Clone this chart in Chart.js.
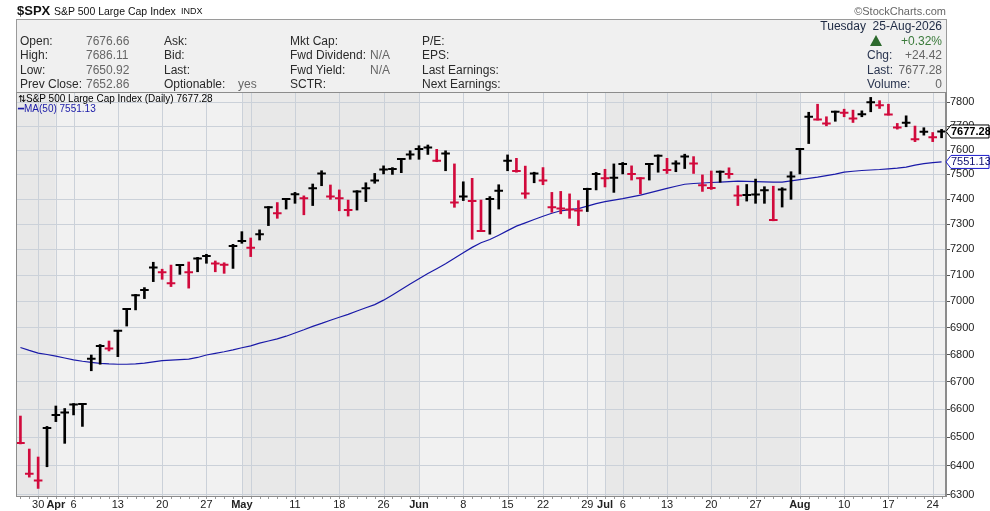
<!DOCTYPE html>
<html>
<head>
<meta charset="utf-8">
<script src="https://cdn.jsdelivr.net/npm/chart.js@4.4.1/dist/chart.umd.min.js"></script>
<style>
  body { margin: 0; background: #fff; font-family: "Liberation Sans", Arial, sans-serif; }
  #wrap { position: relative; width: 990px; height: 511px; overflow: hidden; }
  #chart { position: absolute; left: 0; top: 0; }
  .t { position: absolute; white-space: nowrap; font-size: 12px; line-height: 14px; color: #2a2a2a; }
  .v { color: #666; }
  .r { text-align: right; }
  #info { position: absolute; left: 16px; top: 19px; width: 931px; height: 74px; box-sizing: border-box;
          border: 1px solid #9a9a9a; background: #f0f0f0; }
  .lg { position: absolute; white-space: nowrap; font-size: 10px; line-height: 11px; }
  #tri { position: absolute; left: 870px; top: 35px; width: 0; height: 0;
         border-left: 6px solid transparent; border-right: 6px solid transparent; border-bottom: 11px solid #2d6a2d; }
</style>
</head>
<body>
<div id="wrap">
  <div id="info"></div>
  <canvas id="chart" width="990" height="511"></canvas>

  <div class="t" style="left:17px;top:3px;font-size:13px;line-height:16px;font-weight:bold;color:#111">$SPX</div>
  <div class="t" style="left:54px;top:4px;font-size:10.5px;color:#111">S&amp;P 500 Large Cap Index</div>
  <div class="t" style="left:181px;top:5px;font-size:9px;line-height:12px;color:#111">INDX</div>
  <div class="t r" style="right:44px;top:4px;font-size:11px;color:#666">&copy;StockCharts.com</div>

  <div class="t" style="left:20px;top:34px">Open:</div>
  <div class="t" style="left:20px;top:48px">High:</div>
  <div class="t" style="left:20px;top:63px">Low:</div>
  <div class="t" style="left:20px;top:77px">Prev Close:</div>
  <div class="t v" style="left:86px;top:34px">7676.66</div>
  <div class="t v" style="left:86px;top:48px">7686.11</div>
  <div class="t v" style="left:86px;top:63px">7650.92</div>
  <div class="t v" style="left:86px;top:77px">7652.86</div>

  <div class="t" style="left:164px;top:34px">Ask:</div>
  <div class="t" style="left:164px;top:48px">Bid:</div>
  <div class="t" style="left:164px;top:63px">Last:</div>
  <div class="t" style="left:164px;top:77px">Optionable:</div>
  <div class="t v" style="left:238px;top:77px">yes</div>

  <div class="t" style="left:290px;top:34px">Mkt Cap:</div>
  <div class="t" style="left:290px;top:48px">Fwd Dividend:</div>
  <div class="t" style="left:290px;top:63px">Fwd Yield:</div>
  <div class="t" style="left:290px;top:77px">SCTR:</div>
  <div class="t v" style="left:370px;top:48px">N/A</div>
  <div class="t v" style="left:370px;top:63px">N/A</div>

  <div class="t" style="left:422px;top:34px">P/E:</div>
  <div class="t" style="left:422px;top:48px">EPS:</div>
  <div class="t" style="left:422px;top:63px">Last Earnings:</div>
  <div class="t" style="left:422px;top:77px">Next Earnings:</div>

  <div class="t r" style="right:48px;top:19px;color:#1e2a44">Tuesday&nbsp; 25-Aug-2026</div>
  <div id="tri"></div>
  <div class="t r" style="right:48px;top:34px;color:#3a7a3a">+0.32%</div>
  <div class="t" style="left:867px;top:48px;color:#2a3550">Chg:</div>
  <div class="t r v" style="right:48px;top:48px">+24.42</div>
  <div class="t" style="left:867px;top:63px;color:#2a3550">Last:</div>
  <div class="t r v" style="right:48px;top:63px">7677.28</div>
  <div class="t" style="left:867px;top:77px;color:#2a3550">Volume:</div>
  <div class="t r v" style="right:48px;top:77px">0</div>

  <div class="lg" style="left:18px;top:93px;color:#000">&#8645;S&amp;P 500 Large Cap Index (Daily) 7677.28</div>
  <div class="lg" style="left:18px;top:103px;color:#1a1aa8">&#9473;MA(50) 7551.13</div>
</div>

<script>
// trading days shown on the chart
const dates = [
  "2026-03-26","2026-03-27","2026-03-30","2026-03-31",
  "2026-04-01","2026-04-02","2026-04-06","2026-04-07","2026-04-08","2026-04-09","2026-04-10",
  "2026-04-13","2026-04-14","2026-04-15","2026-04-16","2026-04-17","2026-04-20","2026-04-21",
  "2026-04-22","2026-04-23","2026-04-24","2026-04-27","2026-04-28","2026-04-29","2026-04-30",
  "2026-05-01","2026-05-04","2026-05-05","2026-05-06","2026-05-07","2026-05-08","2026-05-11",
  "2026-05-12","2026-05-13","2026-05-14","2026-05-15","2026-05-18","2026-05-19","2026-05-20",
  "2026-05-21","2026-05-22","2026-05-26","2026-05-27","2026-05-28","2026-05-29",
  "2026-06-01","2026-06-02","2026-06-03","2026-06-04","2026-06-05","2026-06-08","2026-06-09",
  "2026-06-10","2026-06-11","2026-06-12","2026-06-15","2026-06-16","2026-06-17","2026-06-18",
  "2026-06-22","2026-06-23","2026-06-24","2026-06-25","2026-06-26","2026-06-29","2026-06-30",
  "2026-07-01","2026-07-02","2026-07-06","2026-07-07","2026-07-08","2026-07-09","2026-07-10",
  "2026-07-13","2026-07-14","2026-07-15","2026-07-16","2026-07-17","2026-07-20","2026-07-21",
  "2026-07-22","2026-07-23","2026-07-24","2026-07-27","2026-07-28","2026-07-29","2026-07-30",
  "2026-07-31","2026-08-03","2026-08-04","2026-08-05","2026-08-06","2026-08-07","2026-08-10",
  "2026-08-11","2026-08-12","2026-08-13","2026-08-14","2026-08-17","2026-08-18","2026-08-19",
  "2026-08-20","2026-08-21","2026-08-24","2026-08-25"
];

const highs = [
  6576,6459,6431,6539,6612,6603,6621,6621,6798,6837,
  6850,6889,6973,7026,7052,7150,7123,7139,7142,7151,
  7169,7181,7155,7148,7220,7270,7245,7277,7370,7386,
  7403,7427,7413,7461,7515,7457,7437,7396,7434,7466,
  7504,7535,7528,7566,7597,7618,7621,7603,7597,7543,
  7470,7484,7396,7410,7458,7580,7566,7534,7509,7528,
  7427,7431,7421,7394,7444,7508,7521,7543,7549,7535,
  7487,7545,7580,7566,7556,7583,7573,7498,7514,7514,
  7527,7454,7459,7481,7450,7452,7446,7511,7607,7758,
  7792,7739,7763,7771,7767,7764,7821,7807,7792,7711,
  7743,7700,7693,7673,7686.11
];
const lows = [
  6477,6361,6322,6397,6556,6479,6580,6539,6740,6764,
  6813,6792,6906,6967,7010,7075,7084,7056,7103,7050,
  7113,7146,7113,7107,7126,7224,7172,7237,7294,7323,
  7360,7383,7337,7374,7454,7399,7353,7332,7356,7390,
  7464,7502,7500,7507,7562,7562,7582,7552,7515,7367,
  7394,7240,7270,7260,7360,7515,7509,7403,7466,7458,
  7347,7341,7323,7294,7350,7437,7449,7427,7502,7477,
  7421,7477,7509,7504,7511,7524,7504,7431,7439,7468,
  7484,7374,7392,7383,7383,7313,7368,7399,7502,7627,
  7725,7701,7720,7739,7715,7739,7760,7774,7746,7687,
  7697,7635,7662,7635,7650.92
];
const closes = [
  6480,6373,6349,6533,6580,6589,6617,6619,6784,6831,
  6822,6888,6970,7023,7043,7130,7111,7069,7139,7111,
  7165,7174,7145,7140,7213,7233,7207,7260,7367,7343,
  7400,7419,7403,7444,7504,7410,7403,7356,7431,7444,
  7475,7520,7522,7563,7582,7604,7611,7556,7586,7386,
  7410,7392,7273,7400,7434,7556,7514,7423,7504,7475,
  7367,7362,7358,7354,7441,7502,7484,7486,7543,7502,
  7484,7543,7577,7518,7545,7573,7545,7456,7445,7511,
  7502,7414,7416,7418,7436,7316,7439,7491,7604,7739,
  7728,7711,7760,7756,7732,7750,7800,7788,7749,7694,
  7714,7645,7676,7652.86,7677.28
];
const priorClose = 6570;

const ma50 = [
  6826,6815,6805,6800,6794,6787,6780,6775,6771,6767,
  6765,6764,6764,6765,6768,6773,6777,6779,6781,6783,
  6789,6798,6804,6810,6817,6825,6832,6842,6850,6858,
  6868,6880,6892,6905,6916,6928,6939,6950,6963,6975,
  6987,7004,7024,7045,7066,7086,7106,7125,7144,7166,
  7187,7208,7226,7239,7256,7274,7292,7305,7318,7331,
  7343,7353,7358,7362,7372,7382,7390,7396,7402,7409,
  7416,7425,7434,7443,7452,7460,7463,7465,7467,7469,
  7471,7473,7472,7471,7470,7469,7469,7474,7479,7484,
  7489,7495,7501,7509,7513,7516,7518,7520,7523,7526,
  7530,7538,7544,7548,7551.13
];

// x axis labels
const tickDates = ["2026-03-30","2026-04-01","2026-04-06","2026-04-13","2026-04-20","2026-04-27",
  "2026-05-01","2026-05-11","2026-05-18","2026-05-26","2026-06-01","2026-06-08","2026-06-15",
  "2026-06-22","2026-06-29","2026-07-01","2026-07-06","2026-07-13","2026-07-20","2026-07-27",
  "2026-08-03","2026-08-10","2026-08-17","2026-08-24"];
const tickTexts = ["30","Apr","6","13","20","27","May","11","18","26","Jun","8","15",
  "22","29","Jul","6","13","20","27","Aug","10","17","24"];
const yTicks = [6300,6400,6500,6600,6700,6800,6900,7000,7100,7200,7300,7400,7500,7600,7700,7800];

const UP = "#000000";
const DOWN = "#d10a3c";
const GRID = "#cbd1d9";
const FONT = "'Liberation Sans', Arial, sans-serif";

const barColors = closes.map((c, i) => c >= (i == 0 ? priorClose : closes[i - 1]) ? UP : DOWN);

// vertical gridlines at month starts and at the first trading day of each week
const monthStarts = [];
const gridIdx = [];
for (let i = 1; i < dates.length; i++) {
  const d = new Date(dates[i]);
  const p = new Date(dates[i - 1]);
  const newMonth = d.getUTCMonth() != p.getUTCMonth();
  const newWeek = d.getUTCDay() < p.getUTCDay() || (d - p) / 86400000 > 3;
  if (newMonth) monthStarts.push(i);
  if (newMonth || newWeek) gridIdx.push(i);
}
const labelAt = {};
tickDates.forEach((d, k) => { labelAt[dates.indexOf(d)] = tickTexts[k]; });

// month shading, weekly gridlines, small day ticks under the axis
const backdrop = {
  id: "backdrop",
  beforeDraw(chart) {
    const { ctx, chartArea: a, scales } = chart;
    const edges = [a.left, ...monthStarts.map(i => scales.x.getPixelForValue(i)), a.right];
    ctx.save();
    for (let k = 0; k < edges.length - 1; k++) {
      ctx.fillStyle = k % 2 == 0 ? "#e8e8e8" : "#f1f1f1";
      ctx.fillRect(edges[k], a.top, edges[k + 1] - edges[k], a.bottom - a.top);
    }
    ctx.restore();
  },
  beforeDatasetsDraw(chart) {
    const { ctx, chartArea: a, scales } = chart;
    ctx.save();
    ctx.lineWidth = 1;
    ctx.strokeStyle = GRID;
    ctx.beginPath();
    gridIdx.forEach(i => {
      const x = Math.round(scales.x.getPixelForValue(i)) + 0.5;
      ctx.moveTo(x, a.top);
      ctx.lineTo(x, a.bottom);
    });
    ctx.stroke();
    ctx.strokeStyle = "#9a9a9a";
    ctx.beginPath();
    dates.forEach((d, i) => {
      const x = Math.round(scales.x.getPixelForValue(i)) + 0.5;
      ctx.moveTo(x, a.bottom);
      ctx.lineTo(x, a.bottom + 3);
    });
    ctx.stroke();
    ctx.restore();
  }
};

// plot frame and the price tags on the right axis
function drawTag(ctx, x, y, text, stroke, color, bold) {
  ctx.beginPath();
  ctx.moveTo(x, y);
  ctx.lineTo(x + 5, y - 6.5);
  ctx.lineTo(989, y - 6.5);
  ctx.lineTo(989, y + 6.5);
  ctx.lineTo(x + 5, y + 6.5);
  ctx.closePath();
  ctx.fillStyle = "#fff";
  ctx.fill();
  ctx.lineWidth = 1;
  ctx.strokeStyle = stroke;
  ctx.stroke();
  ctx.fillStyle = color;
  ctx.font = (bold ? "bold " : "") + "11px " + FONT;
  ctx.textAlign = "left";
  ctx.textBaseline = "middle";
  ctx.fillText(text, x + 5, y + 0.5);
}

const frameAndTags = {
  id: "frameAndTags",
  afterDraw(chart) {
    const { ctx, chartArea: a, scales } = chart;
    ctx.save();
    ctx.strokeStyle = "#8c8c8c";
    ctx.lineWidth = 1;
    ctx.strokeRect(a.left + 0.5, a.top + 0.5, a.right - a.left - 1, a.bottom - a.top);
    const last = closes.length - 1;
    drawTag(ctx, a.right, scales.y.getPixelForValue(ma50[last]), ma50[last].toFixed(2), "#1a1acc", "#10106e", false);
    drawTag(ctx, a.right, scales.y.getPixelForValue(closes[last]), closes[last].toFixed(2), "#000", "#000", true);
    ctx.restore();
  }
};

new Chart(document.getElementById("chart"), {
  type: "bar",
  data: {
    labels: dates,
    datasets: [
      {
        type: "bar",
        label: "High-Low",
        data: lows.map((l, i) => [l, highs[i]]),
        backgroundColor: barColors,
        borderWidth: 0,
        barThickness: 2
      },
      {
        type: "line",
        label: "Close",
        data: closes,
        showLine: false,
        pointStyle: "line",
        pointRadius: 4.3,
        pointBorderWidth: 2,
        pointBorderColor: barColors,
        pointBackgroundColor: barColors
      },
      {
        type: "line",
        label: "MA(50)",
        data: ma50,
        borderColor: "#1a1aa8",
        borderWidth: 1.2,
        pointRadius: 0,
        tension: 0
      }
    ]
  },
  options: {
    responsive: false,
    animation: false,
    events: [],
    layout: { padding: { left: 16, top: 92, right: 0, bottom: 0 } },
    plugins: { legend: { display: false }, tooltip: { enabled: false } },
    scales: {
      x: {
        type: "category",
        offset: true,
        afterFit: (s) => { s.height = 15; },
        grid: { display: false },
        border: { display: true, color: "#8c8c8c" },
        ticks: {
          autoSkip: false,
          maxRotation: 0,
          padding: -6,
          color: "#222",
          font: (c) => ({ family: FONT, size: 11, weight: monthStarts.includes(c.index) ? "bold" : "normal" }),
          callback: (v, i) => labelAt[i] || ""
        }
      },
      y: {
        type: "logarithmic",
        position: "right",
        min: 6296,
        max: 7844,
        afterFit: (s) => { s.width = 44; },
        afterBuildTicks: (s) => { s.ticks = yTicks.map(v => ({ value: v })); },
        grid: { color: GRID, tickColor: "#555", tickLength: 4 },
        border: { display: true, color: "#8c8c8c" },
        ticks: {
          padding: 0,
          color: "#222",
          font: { family: FONT, size: 11 },
          callback: (v) => String(v)
        }
      }
    }
  },
  plugins: [backdrop, frameAndTags]
});
</script>
</body>
</html>
